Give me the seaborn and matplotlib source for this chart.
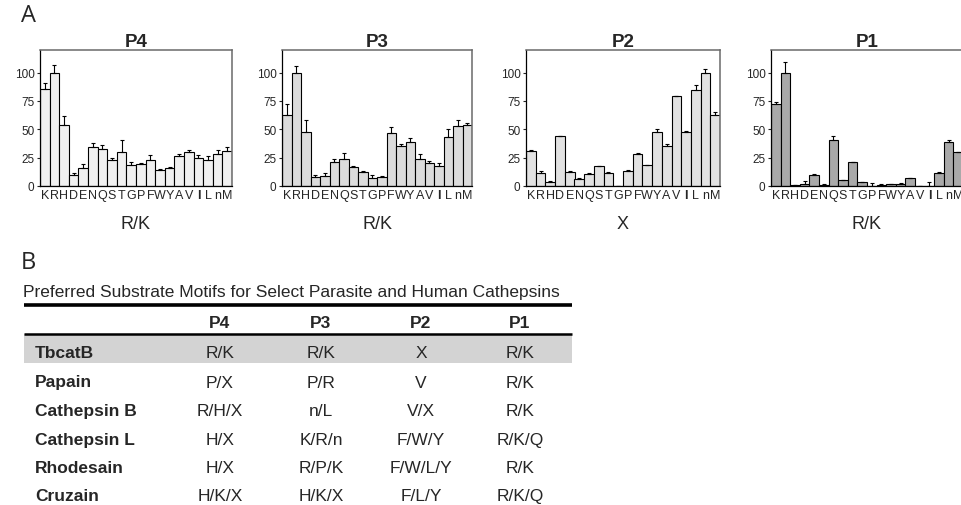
import numpy as np
import matplotlib
matplotlib.use("Agg")
import matplotlib.pyplot as plt
import seaborn as sns

# --- data ---
residues = ["K", "R", "H", "D", "E", "N", "Q", "S", "T", "G",
            "P", "F", "W", "Y", "A", "V", "I", "L", "n", "M"]

p4_vals = [85.5, 100, 54, 10, 16, 34, 33, 23, 30, 18.5,
           19.7, 22.6, 14.4, 16.2, 26.8, 30, 24.4, 23, 28.5, 31]
p4_err = [5.5, 7, 8, 1.5, 3, 4, 3.5, 1.5, 10.5, 3,
          1, 5, 0.6, 0.6, 1.5, 1.8, 2.6, 3.8, 3, 3.5]

p3_vals = [63, 100, 47.5, 7.8, 9, 21, 23.8, 16.5, 12.2, 7.2,
           8, 47.2, 35.7, 38.8, 23.8, 20.3, 17.4, 43.5, 52.8, 53.6]
p3_err = [9, 6, 10.5, 2, 2.3, 3, 5.7, 1.2, 0.8, 2.6,
          0.7, 5.3, 1.3, 3.2, 4.2, 1.7, 2.9, 7, 5, 2]

p2_vals = [31.3, 11.9, 3.8, 44.3, 12.2, 6.4, 11, 17.4, 11.6, 0,
           13.3, 28.4, 18.6, 47.8, 35.7, 79, 47.8, 84.3, 100, 62.5]
p2_err = [0.9, 1.1, 0.5, 0, 0.6, 1.1, 0.6, 0.6, 0.6, 0,
          0.6, 0.3, 0, 2.1, 1.7, 0.7, 0.6, 4.7, 3, 2.7]

p1_vals = [72.2, 100, 0.5, 1.8, 9.6, 0.9, 41, 5, 20.8, 3.2,
           0.3, 1.2, 1.5, 2, 7, 0.3, 0, 11.7, 38.6, 29.8]
p1_err = [1.5, 9, 0, 2.9, 0.6, 0.6, 3, 0, 0.5, 0.3,
          2.6, 0.3, 0, 0.3, 0, 0, 3.5, 0.6, 1.8, 0.6]

panel_titles = ["P4", "P3", "P2", "P1"]
panel_xlabels = ["R/K", "R/K", "X", "R/K"]
panel_colors = ["#f0f0f0", "#dcdcdc", "#e2e2e2", "#a9a9a9"]
yticks = [0, 25, 50, 75, 100]

# table B
table_title = "Preferred Substrate Motifs for Select Parasite and Human Cathepsins"
table_cols = ["P4", "P3", "P2", "P1"]
enzymes = ["TbcatB", "Papain", "Cathepsin B", "Cathepsin L", "Rhodesain", "Cruzain"]
motif_p4 = ["R/K", "P/X", "R/H/X", "H/X", "H/X", "H/K/X"]
motif_p3 = ["R/K", "P/R", "n/L", "K/R/n", "R/P/K", "H/K/X"]
motif_p2 = ["X", "V", "V/X", "F/W/Y", "F/W/L/Y", "F/L/Y"]
motif_p1 = ["R/K", "R/K", "R/K", "R/K/Q", "R/K", "R/K/Q"]

sns.set_style("ticks")
plt.rcParams["font.family"] = ["Liberation Sans", "DejaVu Sans"]

W, H = 962, 506
fig = plt.figure(figsize=(W / 100, H / 100), dpi=100)


def fx(px):
    return px / W


def fy(py):
    return 1 - py / H


# --- panel A: four bar charts ---
panel_left = [40, 282, 526, 771]
panel_width = [192, 190, 194, 192]
ax_top, ax_bot = 51, 187

values = [p4_vals, p3_vals, p2_vals, p1_vals]
errors = [p4_err, p3_err, p2_err, p1_err]

for i in range(4):
    ax = fig.add_axes([fx(panel_left[i]), fy(ax_bot),
                       fx(panel_width[i]), (ax_bot - ax_top) / H])
    sns.barplot(x=residues, y=values[i], order=residues, color=panel_colors[i],
                saturation=1, width=1.0, edgecolor="black", linewidth=0.8, ax=ax)
    xs = np.arange(len(residues))
    ax.errorbar(xs, values[i], yerr=[np.zeros(len(residues)), errors[i]],
                fmt="none", ecolor="black", elinewidth=0.8, capsize=1.5, capthick=0.8)
    ax.set_xlim(-0.5, len(residues) - 0.5)
    ax.set_ylim(0, 120)
    ax.set_yticks(yticks)
    ax.set_yticklabels([str(t) for t in yticks], fontsize=8.5)
    ax.tick_params(axis="x", length=0, pad=2, labelsize=9)
    ax.tick_params(axis="y", length=2.5, width=0.8, pad=1.5)
    for lab in ax.get_xticklabels():
        if lab.get_text() == "I":
            lab.set_fontweight("bold")
    for side in ["left", "bottom"]:
        ax.spines[side].set_color("black")
        ax.spines[side].set_linewidth(0.9)
    for side in ["top", "right"]:
        ax.spines[side].set_visible(True)
        ax.spines[side].set_color("#6a6a6a")
        ax.spines[side].set_linewidth(1.1)
    ax.set_title(panel_titles[i], fontsize=13.5, fontweight="bold", pad=1)
    ax.set_xlabel(panel_xlabels[i], fontsize=13, labelpad=10)
    ax.set_ylabel("")

fig.text(fx(21), fy(16), "A", fontsize=17, family=["Open Sans", "DejaVu Sans"],
         ha="left", va="center")
fig.text(fx(21), fy(263), "B", fontsize=17, family=["Open Sans", "DejaVu Sans"],
         ha="left", va="center")

# --- panel B: table ---
tax = fig.add_axes([0, 0, 1, 1], zorder=-1)
tax.set_xlim(0, W)
tax.set_ylim(H, 0)
tax.axis("off")

line_x0, line_x1 = 24, 572
row_y = [353, 383, 412, 441, 469, 497]
col_x = [220, 321, 421, 520]

tax.text(line_x0 - 1, 292, table_title, fontsize=12.5, ha="left", va="center")
tax.plot([line_x0, line_x1], [306, 306], color="black", lw=2.6, solid_capstyle="butt")
tax.fill_between([line_x0, line_x1], 335, 364, color="#d3d3d3", lw=0)
tax.plot([line_x0, line_x1], [335, 335], color="black", lw=1.8, solid_capstyle="butt")

for c, name in enumerate(table_cols):
    tax.text(col_x[c], 323, name, fontsize=12.5, fontweight="bold", ha="center", va="center")

motifs = [motif_p4, motif_p3, motif_p2, motif_p1]
for r, enz in enumerate(enzymes):
    tax.text(35, row_y[r], enz, fontsize=12.5, fontweight="bold", ha="left", va="center")
    for c in range(4):
        tax.text(col_x[c], row_y[r], motifs[c][r], fontsize=12.5, ha="center", va="center")

fig.savefig("out.png", dpi=100)
